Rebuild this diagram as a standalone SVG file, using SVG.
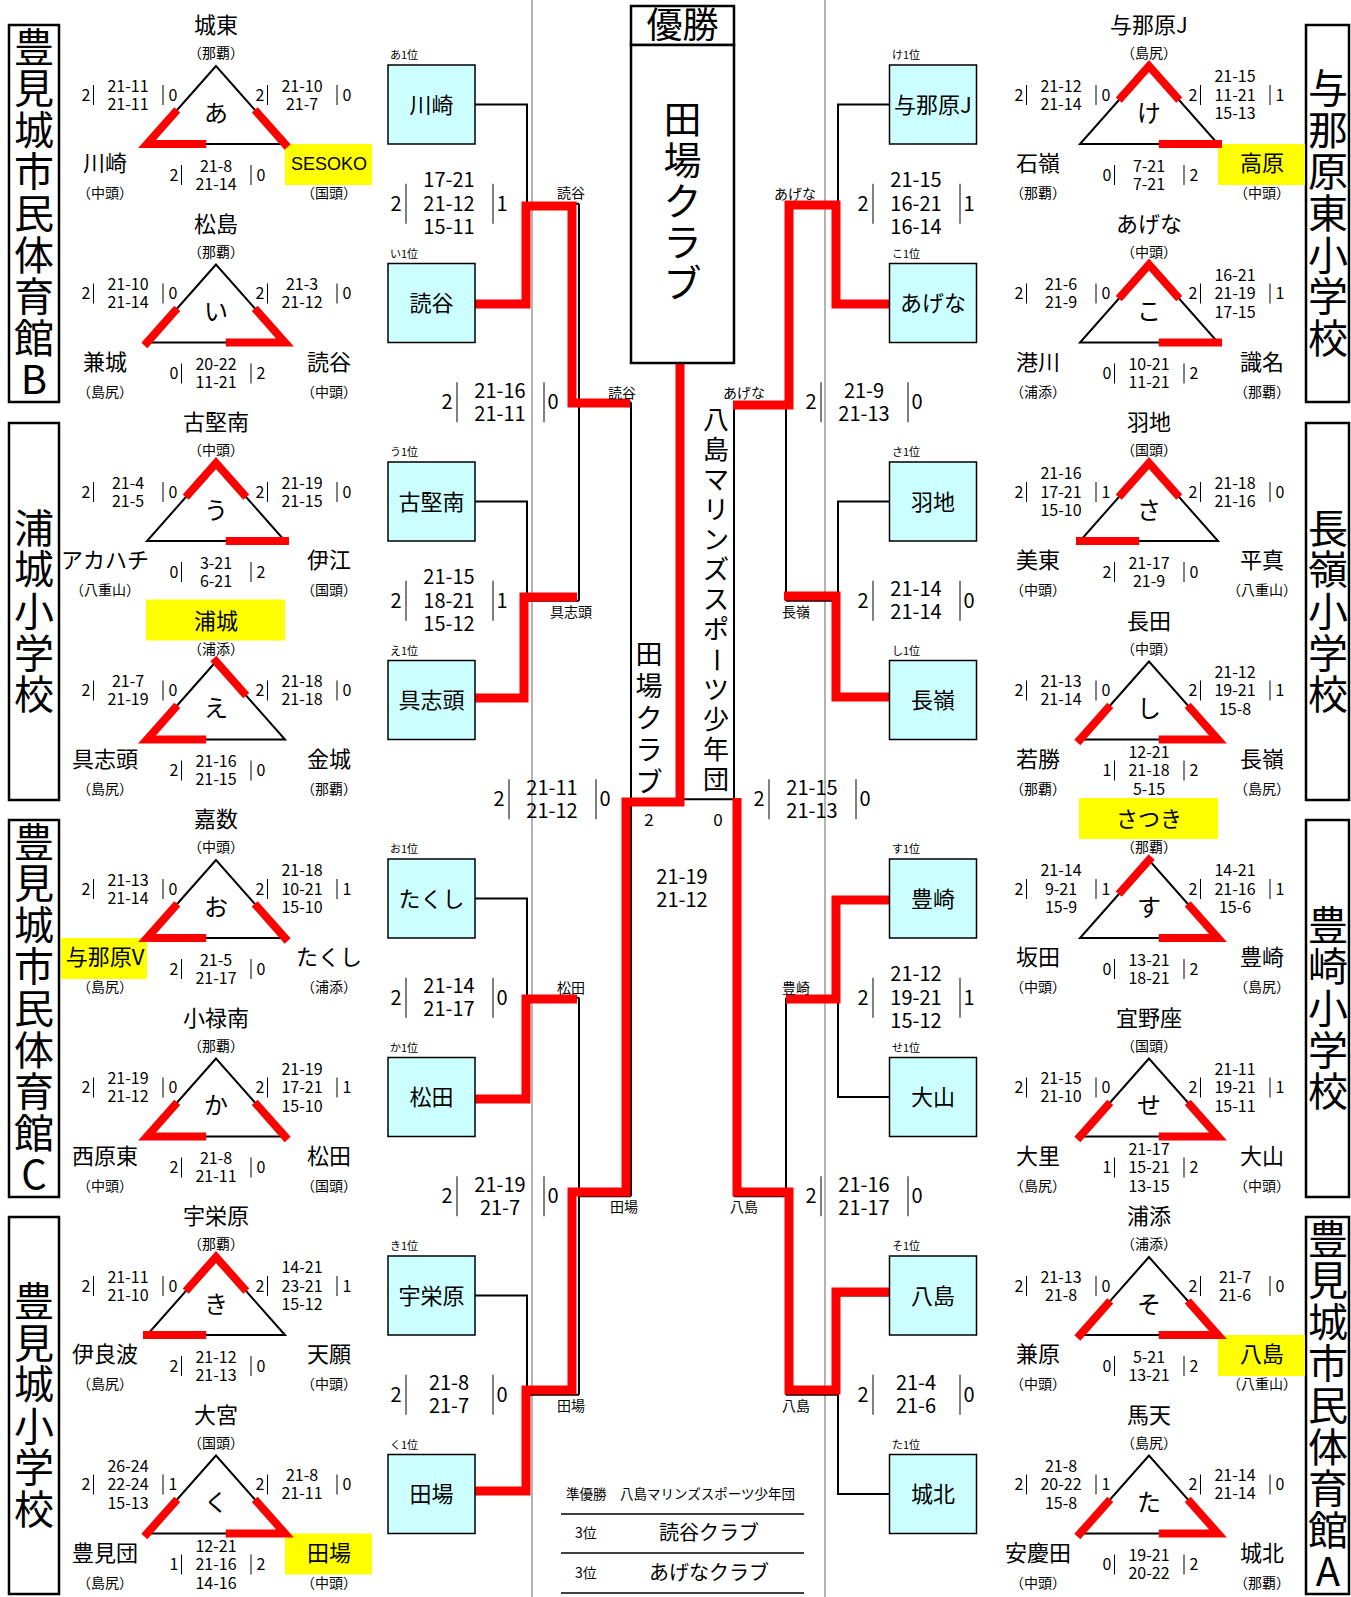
<svg xmlns="http://www.w3.org/2000/svg" xmlns:xlink="http://www.w3.org/1999/xlink" width="1351" height="1597" viewBox="0 0 1351 1597">
<style>
text{font-family:"Noto Sans CJK JP","Noto Sans",sans-serif;fill:#000;text-anchor:middle}
.t{font-size:22px}
.p{font-size:14px}
.l{font-size:24px}
.s{font-size:16px}
.b{font-size:20px}
.f{font-size:17px}
.lb{font-size:14px}
.rk{font-size:11px;text-anchor:start}
.bx{font-size:22px}
.vt{font-size:40px}
.lat{font-family:"Liberation Sans",sans-serif;font-size:18px}
.tri{fill:none;stroke:#000;stroke-width:2}
.red{fill:none;stroke:#f00;stroke-width:8;stroke-linecap:square;stroke-linejoin:miter}
.rb{fill:none;stroke:#f00;stroke-width:9;stroke-linejoin:miter}
.ylw{fill:#ff0}
.bar{stroke:#000;stroke-width:1}
.frame{fill:#fff;stroke:#000;stroke-width:2.5}
.tb{fill:#ccffff;stroke:#000;stroke-width:1.5}
.cn{fill:none;stroke:#000;stroke-width:2}
.gl{stroke:#808080;stroke-width:1.2}
.hl{stroke:#000;stroke-width:1.5}
</style>
<defs>
<g id="sb"><line class="bar" x1="-34.5" y1="-10" x2="-34.5" y2="10"/><line class="bar" x1="35" y1="-10" x2="35" y2="10"/></g>
<g id="bb"><line class="bar" x1="-43" y1="-20" x2="-43" y2="20"/><line class="bar" x1="44" y1="-20" x2="44" y2="20"/></g>
</defs>
<rect width="1351" height="1597" fill="#fff"/>

<g id="grid">
<line class="gl" x1="532" y1="0" x2="532" y2="1597"/>
<line class="gl" x1="825" y1="0" x2="825" y2="1597"/>
</g>

<!-- venue title boxes -->
<g id="venue-left-1"><rect class="frame" x="9" y="25" width="50" height="377"/>
<text class="vt"><tspan x="34" y="61.5">豊</tspan><tspan x="34" y="103.1">見</tspan><tspan x="34" y="144.7">城</tspan><tspan x="34" y="186.3">市</tspan><tspan x="34" y="227.9">民</tspan><tspan x="34" y="269.5">体</tspan><tspan x="34" y="311.1">育</tspan><tspan x="34" y="352.7">館</tspan><tspan x="34" y="394.3">B</tspan></text></g>
<g id="venue-left-2"><rect class="frame" x="9" y="423" width="50" height="377"/>
<text class="vt"><tspan x="34" y="542.7">浦</tspan><tspan x="34" y="584.3">城</tspan><tspan x="34" y="625.9">小</tspan><tspan x="34" y="667.5">学</tspan><tspan x="34" y="709.1">校</tspan></text></g>
<g id="venue-left-3"><rect class="frame" x="9" y="820" width="50" height="377"/>
<text class="vt"><tspan x="34" y="856.5">豊</tspan><tspan x="34" y="898.1">見</tspan><tspan x="34" y="939.7">城</tspan><tspan x="34" y="981.3">市</tspan><tspan x="34" y="1022.9">民</tspan><tspan x="34" y="1064.5">体</tspan><tspan x="34" y="1106.1">育</tspan><tspan x="34" y="1147.7">館</tspan><tspan x="34" y="1189.3">C</tspan></text></g>
<g id="venue-left-4"><rect class="frame" x="9" y="1217" width="50" height="377"/>
<text class="vt"><tspan x="34" y="1315.9">豊</tspan><tspan x="34" y="1357.5">見</tspan><tspan x="34" y="1399.1">城</tspan><tspan x="34" y="1440.7">小</tspan><tspan x="34" y="1482.3">学</tspan><tspan x="34" y="1523.9">校</tspan></text></g>
<g id="venue-right-1"><rect class="frame" x="1306" y="25" width="43" height="377"/>
<text class="vt"><tspan x="1328" y="103.1">与</tspan><tspan x="1328" y="144.7">那</tspan><tspan x="1328" y="186.3">原</tspan><tspan x="1328" y="227.9">東</tspan><tspan x="1328" y="269.5">小</tspan><tspan x="1328" y="311.1">学</tspan><tspan x="1328" y="352.7">校</tspan></text></g>
<g id="venue-right-2"><rect class="frame" x="1306" y="423" width="43" height="377"/>
<text class="vt"><tspan x="1328" y="542.7">長</tspan><tspan x="1328" y="584.3">嶺</tspan><tspan x="1328" y="625.9">小</tspan><tspan x="1328" y="667.5">学</tspan><tspan x="1328" y="709.1">校</tspan></text></g>
<g id="venue-right-3"><rect class="frame" x="1306" y="820" width="43" height="377"/>
<text class="vt"><tspan x="1328" y="939.7">豊</tspan><tspan x="1328" y="981.3">崎</tspan><tspan x="1328" y="1022.9">小</tspan><tspan x="1328" y="1064.5">学</tspan><tspan x="1328" y="1106.1">校</tspan></text></g>
<g id="venue-right-4"><rect class="frame" x="1306" y="1217" width="43" height="377"/>
<text class="vt"><tspan x="1328" y="1253.5">豊</tspan><tspan x="1328" y="1295.1">見</tspan><tspan x="1328" y="1336.7">城</tspan><tspan x="1328" y="1378.3">市</tspan><tspan x="1328" y="1419.9">民</tspan><tspan x="1328" y="1461.5">体</tspan><tspan x="1328" y="1503.1">育</tspan><tspan x="1328" y="1544.7">館</tspan><tspan x="1328" y="1586.3">A</tspan></text></g>

<!-- league triangles, left column -->
<g id="group-a" transform="translate(216,66)">
<rect class="ylw" x="69" y="78" width="87" height="41"/>
<polygon class="tri" points="0,0 -69,78 69,78"/>
<polyline class="red" points="-41.4,46.8 -69,78 -13.8,78"/><polyline class="red" points="41.4,46.8 69,78"/>
<text class="t" y="-33">城東</text><text class="p" y="-8">（那覇）</text><text class="l" y="55.6">あ</text>
<text class="t" x="-111" y="105">川崎</text><text class="p" x="-111" y="132">（中頭）</text>
<text class="lat" x="113" y="104">SESOKO</text><text class="p" x="113" y="132">（国頭）</text>
<g class="s" transform="translate(-88,29)"><use href="#sb"/><text x="-42" y="5.8">2</text><text y="-3.2">21-11</text><text y="14.8">21-11</text><text x="45" y="5.8">0</text></g>
<g class="s" transform="translate(86,29)"><use href="#sb"/><text x="-42" y="5.8">2</text><text y="-3.2">21-10</text><text y="14.8">21-7</text><text x="45" y="5.8">0</text></g>
<g class="s" transform="translate(0,109)"><use href="#sb"/><text x="-42" y="5.8">2</text><text y="-3.2">21-8</text><text y="14.8">21-14</text><text x="45" y="5.8">0</text></g>
</g>

<g id="group-i" transform="translate(216,264.5)">
<polygon class="tri" points="0,0 -69,78 69,78"/>
<polyline class="red" points="-41.4,46.8 -69,78"/><polyline class="red" points="41.4,46.8 69,78 13.8,78"/>
<text class="t" y="-33">松島</text><text class="p" y="-8">（那覇）</text><text class="l" y="55.6">い</text>
<text class="t" x="-111" y="105">兼城</text><text class="p" x="-111" y="132">（島尻）</text>
<text class="t" x="113" y="105">読谷</text><text class="p" x="113" y="132">（中頭）</text>
<g class="s" transform="translate(-88,29)"><use href="#sb"/><text x="-42" y="5.8">2</text><text y="-3.2">21-10</text><text y="14.8">21-14</text><text x="45" y="5.8">0</text></g>
<g class="s" transform="translate(86,29)"><use href="#sb"/><text x="-42" y="5.8">2</text><text y="-3.2">21-3</text><text y="14.8">21-12</text><text x="45" y="5.8">0</text></g>
<g class="s" transform="translate(0,109)"><use href="#sb"/><text x="-42" y="5.8">0</text><text y="-3.2">20-22</text><text y="14.8">11-21</text><text x="45" y="5.8">2</text></g>
</g>

<g id="group-u" transform="translate(216,463)">
<polygon class="tri" points="0,0 -69,78 69,78"/>
<polyline class="red" points="-27.6,31.2 0,0 27.6,31.2"/><polyline class="red" points="69,78 13.8,78"/>
<text class="t" y="-33">古堅南</text><text class="p" y="-8">（中頭）</text><text class="l" y="55.6">う</text>
<text class="t" x="-111" y="105">アカハチ</text><text class="p" x="-111" y="132">（八重山）</text>
<text class="t" x="113" y="105">伊江</text><text class="p" x="113" y="132">（国頭）</text>
<g class="s" transform="translate(-88,29)"><use href="#sb"/><text x="-42" y="5.8">2</text><text y="-3.2">21-4</text><text y="14.8">21-5</text><text x="45" y="5.8">0</text></g>
<g class="s" transform="translate(86,29)"><use href="#sb"/><text x="-42" y="5.8">2</text><text y="-3.2">21-19</text><text y="14.8">21-15</text><text x="45" y="5.8">0</text></g>
<g class="s" transform="translate(0,109)"><use href="#sb"/><text x="-42" y="5.8">0</text><text y="-3.2">3-21</text><text y="14.8">6-21</text><text x="45" y="5.8">2</text></g>
</g>

<g id="group-e" transform="translate(216,661.5)">
<rect class="ylw" x="-70" y="-62" width="139" height="41"/>
<polygon class="tri" points="0,0 -69,78 69,78"/>
<polyline class="red" points="-41.4,46.8 -69,78 -13.8,78"/><polyline class="red" points="0,0 27.6,31.2"/>
<text class="t" y="-33">浦城</text><text class="p" y="-8">（浦添）</text><text class="l" y="55.6">え</text>
<text class="t" x="-111" y="105">具志頭</text><text class="p" x="-111" y="132">（島尻）</text>
<text class="t" x="113" y="105">金城</text><text class="p" x="113" y="132">（那覇）</text>
<g class="s" transform="translate(-88,29)"><use href="#sb"/><text x="-42" y="5.8">2</text><text y="-3.2">21-7</text><text y="14.8">21-19</text><text x="45" y="5.8">0</text></g>
<g class="s" transform="translate(86,29)"><use href="#sb"/><text x="-42" y="5.8">2</text><text y="-3.2">21-18</text><text y="14.8">21-18</text><text x="45" y="5.8">0</text></g>
<g class="s" transform="translate(0,109)"><use href="#sb"/><text x="-42" y="5.8">2</text><text y="-3.2">21-16</text><text y="14.8">21-15</text><text x="45" y="5.8">0</text></g>
</g>

<g id="group-o" transform="translate(216,860)">
<rect class="ylw" x="-155" y="78" width="86" height="41"/>
<polygon class="tri" points="0,0 -69,78 69,78"/>
<polyline class="red" points="-41.4,46.8 -69,78 -13.8,78"/><polyline class="red" points="41.4,46.8 69,78"/>
<text class="t" y="-33">嘉数</text><text class="p" y="-8">（中頭）</text><text class="l" y="55.6">お</text>
<text class="t" x="-111" y="105">与那原V</text><text class="p" x="-111" y="132">（島尻）</text>
<text class="t" x="113" y="105">たくし</text><text class="p" x="113" y="132">（浦添）</text>
<g class="s" transform="translate(-88,29)"><use href="#sb"/><text x="-42" y="5.8">2</text><text y="-3.2">21-13</text><text y="14.8">21-14</text><text x="45" y="5.8">0</text></g>
<g class="s" transform="translate(86,29)"><use href="#sb"/><text x="-42" y="5.8">2</text><text y="-12.7">21-18</text><text y="5.8">10-21</text><text y="24.3">15-10</text><text x="45" y="5.8">1</text></g>
<g class="s" transform="translate(0,109)"><use href="#sb"/><text x="-42" y="5.8">2</text><text y="-3.2">21-5</text><text y="14.8">21-17</text><text x="45" y="5.8">0</text></g>
</g>

<g id="group-ka" transform="translate(216,1058.5)">
<polygon class="tri" points="0,0 -69,78 69,78"/>
<polyline class="red" points="-41.4,46.8 -69,78 -13.8,78"/><polyline class="red" points="41.4,46.8 69,78"/>
<text class="t" y="-33">小禄南</text><text class="p" y="-8">（那覇）</text><text class="l" y="55.6">か</text>
<text class="t" x="-111" y="105">西原東</text><text class="p" x="-111" y="132">（中頭）</text>
<text class="t" x="113" y="105">松田</text><text class="p" x="113" y="132">（国頭）</text>
<g class="s" transform="translate(-88,29)"><use href="#sb"/><text x="-42" y="5.8">2</text><text y="-3.2">21-19</text><text y="14.8">21-12</text><text x="45" y="5.8">0</text></g>
<g class="s" transform="translate(86,29)"><use href="#sb"/><text x="-42" y="5.8">2</text><text y="-12.7">21-19</text><text y="5.8">17-21</text><text y="24.3">15-10</text><text x="45" y="5.8">1</text></g>
<g class="s" transform="translate(0,109)"><use href="#sb"/><text x="-42" y="5.8">2</text><text y="-3.2">21-8</text><text y="14.8">21-11</text><text x="45" y="5.8">0</text></g>
</g>

<g id="group-ki" transform="translate(216,1257)">
<polygon class="tri" points="0,0 -69,78 69,78"/>
<polyline class="red" points="-27.6,31.2 0,0 27.6,31.2"/><polyline class="red" points="-69,78 -13.8,78"/>
<text class="t" y="-33">宇栄原</text><text class="p" y="-8">（那覇）</text><text class="l" y="55.6">き</text>
<text class="t" x="-111" y="105">伊良波</text><text class="p" x="-111" y="132">（島尻）</text>
<text class="t" x="113" y="105">天願</text><text class="p" x="113" y="132">（中頭）</text>
<g class="s" transform="translate(-88,29)"><use href="#sb"/><text x="-42" y="5.8">2</text><text y="-3.2">21-11</text><text y="14.8">21-10</text><text x="45" y="5.8">0</text></g>
<g class="s" transform="translate(86,29)"><use href="#sb"/><text x="-42" y="5.8">2</text><text y="-12.7">14-21</text><text y="5.8">23-21</text><text y="24.3">15-12</text><text x="45" y="5.8">1</text></g>
<g class="s" transform="translate(0,109)"><use href="#sb"/><text x="-42" y="5.8">2</text><text y="-3.2">21-12</text><text y="14.8">21-13</text><text x="45" y="5.8">0</text></g>
</g>

<g id="group-ku" transform="translate(216,1455.5)">
<rect class="ylw" x="69" y="78" width="87" height="41"/>
<polygon class="tri" points="0,0 -69,78 69,78"/>
<polyline class="red" points="-41.4,46.8 -69,78"/><polyline class="red" points="41.4,46.8 69,78 13.8,78"/>
<text class="t" y="-33">大宮</text><text class="p" y="-8">（国頭）</text><text class="l" y="55.6">く</text>
<text class="t" x="-111" y="105">豊見団</text><text class="p" x="-111" y="132">（島尻）</text>
<text class="t" x="113" y="105">田場</text><text class="p" x="113" y="132">（中頭）</text>
<g class="s" transform="translate(-88,29)"><use href="#sb"/><text x="-42" y="5.8">2</text><text y="-12.7">26-24</text><text y="5.8">22-24</text><text y="24.3">15-13</text><text x="45" y="5.8">1</text></g>
<g class="s" transform="translate(86,29)"><use href="#sb"/><text x="-42" y="5.8">2</text><text y="-3.2">21-8</text><text y="14.8">21-11</text><text x="45" y="5.8">0</text></g>
<g class="s" transform="translate(0,109)"><use href="#sb"/><text x="-42" y="5.8">1</text><text y="-12.7">12-21</text><text y="5.8">21-16</text><text y="24.3">14-16</text><text x="45" y="5.8">2</text></g>
</g>

<!-- league triangles, right column -->
<g id="group-ke" transform="translate(1149,66)">
<rect class="ylw" x="69" y="78" width="87" height="41"/>
<polygon class="tri" points="0,0 -69,78 69,78"/>
<polyline class="red" points="-27.6,31.2 0,0 27.6,31.2"/><polyline class="red" points="69,78 13.8,78"/>
<text class="t" y="-33">与那原J</text><text class="p" y="-8">（島尻）</text><text class="l" y="55.6">け</text>
<text class="t" x="-111" y="105">石嶺</text><text class="p" x="-111" y="132">（那覇）</text>
<text class="t" x="113" y="105">高原</text><text class="p" x="113" y="132">（中頭）</text>
<g class="s" transform="translate(-88,29)"><use href="#sb"/><text x="-42" y="5.8">2</text><text y="-3.2">21-12</text><text y="14.8">21-14</text><text x="45" y="5.8">0</text></g>
<g class="s" transform="translate(86,29)"><use href="#sb"/><text x="-42" y="5.8">2</text><text y="-12.7">21-15</text><text y="5.8">11-21</text><text y="24.3">15-13</text><text x="45" y="5.8">1</text></g>
<g class="s" transform="translate(0,109)"><use href="#sb"/><text x="-42" y="5.8">0</text><text y="-3.2">7-21</text><text y="14.8">7-21</text><text x="45" y="5.8">2</text></g>
</g>

<g id="group-ko" transform="translate(1149,264.5)">
<polygon class="tri" points="0,0 -69,78 69,78"/>
<polyline class="red" points="-27.6,31.2 0,0 27.6,31.2"/><polyline class="red" points="69,78 13.8,78"/>
<text class="t" y="-33">あげな</text><text class="p" y="-8">（中頭）</text><text class="l" y="55.6">こ</text>
<text class="t" x="-111" y="105">港川</text><text class="p" x="-111" y="132">（浦添）</text>
<text class="t" x="113" y="105">識名</text><text class="p" x="113" y="132">（那覇）</text>
<g class="s" transform="translate(-88,29)"><use href="#sb"/><text x="-42" y="5.8">2</text><text y="-3.2">21-6</text><text y="14.8">21-9</text><text x="45" y="5.8">0</text></g>
<g class="s" transform="translate(86,29)"><use href="#sb"/><text x="-42" y="5.8">2</text><text y="-12.7">16-21</text><text y="5.8">21-19</text><text y="24.3">17-15</text><text x="45" y="5.8">1</text></g>
<g class="s" transform="translate(0,109)"><use href="#sb"/><text x="-42" y="5.8">0</text><text y="-3.2">10-21</text><text y="14.8">11-21</text><text x="45" y="5.8">2</text></g>
</g>

<g id="group-sa" transform="translate(1149,463)">
<polygon class="tri" points="0,0 -69,78 69,78"/>
<polyline class="red" points="-27.6,31.2 0,0 27.6,31.2"/><polyline class="red" points="-69,78 -13.8,78"/>
<text class="t" y="-33">羽地</text><text class="p" y="-8">（国頭）</text><text class="l" y="55.6">さ</text>
<text class="t" x="-111" y="105">美東</text><text class="p" x="-111" y="132">（中頭）</text>
<text class="t" x="113" y="105">平真</text><text class="p" x="113" y="132">（八重山）</text>
<g class="s" transform="translate(-88,29)"><use href="#sb"/><text x="-42" y="5.8">2</text><text y="-12.7">21-16</text><text y="5.8">17-21</text><text y="24.3">15-10</text><text x="45" y="5.8">1</text></g>
<g class="s" transform="translate(86,29)"><use href="#sb"/><text x="-42" y="5.8">2</text><text y="-3.2">21-18</text><text y="14.8">21-16</text><text x="45" y="5.8">0</text></g>
<g class="s" transform="translate(0,109)"><use href="#sb"/><text x="-42" y="5.8">2</text><text y="-3.2">21-17</text><text y="14.8">21-9</text><text x="45" y="5.8">0</text></g>
</g>

<g id="group-shi" transform="translate(1149,661.5)">
<polygon class="tri" points="0,0 -69,78 69,78"/>
<polyline class="red" points="-41.4,46.8 -69,78"/><polyline class="red" points="41.4,46.8 69,78 13.8,78"/>
<text class="t" y="-33">長田</text><text class="p" y="-8">（中頭）</text><text class="l" y="55.6">し</text>
<text class="t" x="-111" y="105">若勝</text><text class="p" x="-111" y="132">（那覇）</text>
<text class="t" x="113" y="105">長嶺</text><text class="p" x="113" y="132">（島尻）</text>
<g class="s" transform="translate(-88,29)"><use href="#sb"/><text x="-42" y="5.8">2</text><text y="-3.2">21-13</text><text y="14.8">21-14</text><text x="45" y="5.8">0</text></g>
<g class="s" transform="translate(86,29)"><use href="#sb"/><text x="-42" y="5.8">2</text><text y="-12.7">21-12</text><text y="5.8">19-21</text><text y="24.3">15-8</text><text x="45" y="5.8">1</text></g>
<g class="s" transform="translate(0,109)"><use href="#sb"/><text x="-42" y="5.8">1</text><text y="-12.7">12-21</text><text y="5.8">21-18</text><text y="24.3">5-15</text><text x="45" y="5.8">2</text></g>
</g>

<g id="group-su" transform="translate(1149,860)">
<rect class="ylw" x="-70" y="-62" width="139" height="41"/>
<polygon class="tri" points="0,0 -69,78 69,78"/>
<polyline class="red" points="-27.6,31.2 0,0"/><polyline class="red" points="41.4,46.8 69,78 13.8,78"/>
<text class="t" y="-33">さつき</text><text class="p" y="-8">（那覇）</text><text class="l" y="55.6">す</text>
<text class="t" x="-111" y="105">坂田</text><text class="p" x="-111" y="132">（中頭）</text>
<text class="t" x="113" y="105">豊崎</text><text class="p" x="113" y="132">（島尻）</text>
<g class="s" transform="translate(-88,29)"><use href="#sb"/><text x="-42" y="5.8">2</text><text y="-12.7">21-14</text><text y="5.8">9-21</text><text y="24.3">15-9</text><text x="45" y="5.8">1</text></g>
<g class="s" transform="translate(86,29)"><use href="#sb"/><text x="-42" y="5.8">2</text><text y="-12.7">14-21</text><text y="5.8">21-16</text><text y="24.3">15-6</text><text x="45" y="5.8">1</text></g>
<g class="s" transform="translate(0,109)"><use href="#sb"/><text x="-42" y="5.8">0</text><text y="-3.2">13-21</text><text y="14.8">18-21</text><text x="45" y="5.8">2</text></g>
</g>

<g id="group-se" transform="translate(1149,1058.5)">
<polygon class="tri" points="0,0 -69,78 69,78"/>
<polyline class="red" points="-41.4,46.8 -69,78"/><polyline class="red" points="41.4,46.8 69,78 13.8,78"/>
<text class="t" y="-33">宜野座</text><text class="p" y="-8">（国頭）</text><text class="l" y="55.6">せ</text>
<text class="t" x="-111" y="105">大里</text><text class="p" x="-111" y="132">（島尻）</text>
<text class="t" x="113" y="105">大山</text><text class="p" x="113" y="132">（中頭）</text>
<g class="s" transform="translate(-88,29)"><use href="#sb"/><text x="-42" y="5.8">2</text><text y="-3.2">21-15</text><text y="14.8">21-10</text><text x="45" y="5.8">0</text></g>
<g class="s" transform="translate(86,29)"><use href="#sb"/><text x="-42" y="5.8">2</text><text y="-12.7">21-11</text><text y="5.8">19-21</text><text y="24.3">15-11</text><text x="45" y="5.8">1</text></g>
<g class="s" transform="translate(0,109)"><use href="#sb"/><text x="-42" y="5.8">1</text><text y="-12.7">21-17</text><text y="5.8">15-21</text><text y="24.3">13-15</text><text x="45" y="5.8">2</text></g>
</g>

<g id="group-so" transform="translate(1149,1257)">
<rect class="ylw" x="69" y="78" width="87" height="41"/>
<polygon class="tri" points="0,0 -69,78 69,78"/>
<polyline class="red" points="-41.4,46.8 -69,78"/><polyline class="red" points="41.4,46.8 69,78 13.8,78"/>
<text class="t" y="-33">浦添</text><text class="p" y="-8">（浦添）</text><text class="l" y="55.6">そ</text>
<text class="t" x="-111" y="105">兼原</text><text class="p" x="-111" y="132">（中頭）</text>
<text class="t" x="113" y="105">八島</text><text class="p" x="113" y="132">（八重山）</text>
<g class="s" transform="translate(-88,29)"><use href="#sb"/><text x="-42" y="5.8">2</text><text y="-3.2">21-13</text><text y="14.8">21-8</text><text x="45" y="5.8">0</text></g>
<g class="s" transform="translate(86,29)"><use href="#sb"/><text x="-42" y="5.8">2</text><text y="-3.2">21-7</text><text y="14.8">21-6</text><text x="45" y="5.8">0</text></g>
<g class="s" transform="translate(0,109)"><use href="#sb"/><text x="-42" y="5.8">0</text><text y="-3.2">5-21</text><text y="14.8">13-21</text><text x="45" y="5.8">2</text></g>
</g>

<g id="group-ta" transform="translate(1149,1455.5)">
<polygon class="tri" points="0,0 -69,78 69,78"/>
<polyline class="red" points="-41.4,46.8 -69,78"/><polyline class="red" points="41.4,46.8 69,78 13.8,78"/>
<text class="t" y="-33">馬天</text><text class="p" y="-8">（島尻）</text><text class="l" y="55.6">た</text>
<text class="t" x="-111" y="105">安慶田</text><text class="p" x="-111" y="132">（中頭）</text>
<text class="t" x="113" y="105">城北</text><text class="p" x="113" y="132">（那覇）</text>
<g class="s" transform="translate(-88,29)"><use href="#sb"/><text x="-42" y="5.8">2</text><text y="-12.7">21-8</text><text y="5.8">20-22</text><text y="24.3">15-8</text><text x="45" y="5.8">1</text></g>
<g class="s" transform="translate(86,29)"><use href="#sb"/><text x="-42" y="5.8">2</text><text y="-3.2">21-14</text><text y="14.8">21-14</text><text x="45" y="5.8">0</text></g>
<g class="s" transform="translate(0,109)"><use href="#sb"/><text x="-42" y="5.8">0</text><text y="-3.2">19-21</text><text y="14.8">20-22</text><text x="45" y="5.8">2</text></g>
</g>

<!-- connectors -->
<g id="connectors">
<path class="cn" d="M475,104.5H527V303H475M527,203.75H579M475,501.5H527V700H475M527,600.75H579M475,898.5H527V1097H475M527,997.75H579M475,1295.5H527V1494H475M527,1394.75H579M579,203.75V600.75M579,402.25H631M579,997.75V1394.75M579,1196.25H631M631,402.25V1196.25M631,799.25H680M680,363V799.25"/>
<path class="cn" d="M889.5,104.5H838V303H889.5M838,203.75H786M889.5,501.5H838V700H889.5M838,600.75H786M889.5,898.5H838V1097H889.5M838,997.75H786M889.5,1295.5H838V1494H889.5M838,1394.75H786M786,203.75V600.75M786,402.25H734M786,997.75V1394.75M786,1196.25H734M734,402.25V1196.25M734,799.25H680"/>
<path class="rb" d="M475,304H526V206H572V403H630"/>
<path class="rb" d="M475,698H524V597H577"/>
<path class="rb" d="M475,1099H526V999H577"/>
<path class="rb" d="M475,1491H526V1390H572V1192H626V802H680V363"/>
<path class="rb" d="M889.5,304H836V205H789V405H733"/>
<path class="rb" d="M889.5,697H836V596H784"/>
<path class="rb" d="M889.5,900H836V999H786"/>
<path class="rb" d="M889.5,1292H836V1390H789V1192H737V798"/>
<g class="lb">
<text x="571" y="198">読谷</text><text x="571" y="617">具志頭</text><text x="571" y="993">松田</text><text x="571" y="1411">田場</text>
<text x="622" y="398">読谷</text><text x="624" y="1212">田場</text>
<text x="795" y="199">あげな</text><text x="796" y="617">長嶺</text><text x="796" y="993">豊崎</text><text x="796" y="1411">八島</text>
<text x="744" y="398">あげな</text><text x="744" y="1212">八島</text>
</g>
<g class="b" transform="translate(449,203.75)"><use href="#bb"/><text x="-53" y="7.2">2</text><text y="-16.3">17-21</text><text y="7.2">21-12</text><text y="30.7">15-11</text><text x="53" y="7.2">1</text></g>
<g class="b" transform="translate(449,600.75)"><use href="#bb"/><text x="-53" y="7.2">2</text><text y="-16.3">21-15</text><text y="7.2">18-21</text><text y="30.7">15-12</text><text x="53" y="7.2">1</text></g>
<g class="b" transform="translate(449,997.75)"><use href="#bb"/><text x="-53" y="7.2">2</text><text y="-4.3">21-14</text><text y="18.7">21-17</text><text x="53" y="7.2">0</text></g>
<g class="b" transform="translate(449,1394.75)"><use href="#bb"/><text x="-53" y="7.2">2</text><text y="-4.3">21-8</text><text y="18.7">21-7</text><text x="53" y="7.2">0</text></g>
<g class="b" transform="translate(916,203.75)"><use href="#bb"/><text x="-53" y="7.2">2</text><text y="-16.3">21-15</text><text y="7.2">16-21</text><text y="30.7">16-14</text><text x="53" y="7.2">1</text></g>
<g class="b" transform="translate(916,600.75)"><use href="#bb"/><text x="-53" y="7.2">2</text><text y="-4.3">21-14</text><text y="18.7">21-14</text><text x="53" y="7.2">0</text></g>
<g class="b" transform="translate(916,997.75)"><use href="#bb"/><text x="-53" y="7.2">2</text><text y="-16.3">21-12</text><text y="7.2">19-21</text><text y="30.7">15-12</text><text x="53" y="7.2">1</text></g>
<g class="b" transform="translate(916,1394.75)"><use href="#bb"/><text x="-53" y="7.2">2</text><text y="-4.3">21-4</text><text y="18.7">21-6</text><text x="53" y="7.2">0</text></g>
<g class="b" transform="translate(500,402.25)"><use href="#bb"/><text x="-53" y="7.2">2</text><text y="-4.3">21-16</text><text y="18.7">21-11</text><text x="53" y="7.2">0</text></g>
<g class="b" transform="translate(500,1196.25)"><use href="#bb"/><text x="-53" y="7.2">2</text><text y="-4.3">21-19</text><text y="18.7">21-7</text><text x="53" y="7.2">0</text></g>
<g class="b" transform="translate(864,402.25)"><use href="#bb"/><text x="-53" y="7.2">2</text><text y="-4.3">21-9</text><text y="18.7">21-13</text><text x="53" y="7.2">0</text></g>
<g class="b" transform="translate(864,1196.25)"><use href="#bb"/><text x="-53" y="7.2">2</text><text y="-4.3">21-16</text><text y="18.7">21-17</text><text x="53" y="7.2">0</text></g>
<g class="b" transform="translate(552,799.25)"><use href="#bb"/><text x="-53" y="7.2">2</text><text y="-4.3">21-11</text><text y="18.7">21-12</text><text x="53" y="7.2">0</text></g>
<g class="b" transform="translate(812,799.25)"><use href="#bb"/><text x="-53" y="7.2">2</text><text y="-4.3">21-15</text><text y="18.7">21-13</text><text x="53" y="7.2">0</text></g>
<text class="f" x="649" y="826">2</text><text class="f" x="718" y="826">0</text>
<text class="b" x="682" y="884">21-19</text><text class="b" x="682" y="907">21-12</text>
</g>

<!-- team boxes -->
<g id="box-a1"><rect class="tb" x="388" y="65" width="87" height="79"/><text class="rk" x="390" y="59">あ1位</text><text class="bx" x="431.5" y="112.5">川崎</text></g>
<g id="box-i1"><rect class="tb" x="388" y="263.5" width="87" height="79"/><text class="rk" x="390" y="257.5">い1位</text><text class="bx" x="431.5" y="311">読谷</text></g>
<g id="box-u1"><rect class="tb" x="388" y="462" width="87" height="79"/><text class="rk" x="390" y="456">う1位</text><text class="bx" x="431.5" y="509.5">古堅南</text></g>
<g id="box-e1"><rect class="tb" x="388" y="660.5" width="87" height="79"/><text class="rk" x="390" y="654.5">え1位</text><text class="bx" x="431.5" y="708">具志頭</text></g>
<g id="box-o1"><rect class="tb" x="388" y="859" width="87" height="79"/><text class="rk" x="390" y="853">お1位</text><text class="bx" x="431.5" y="906.5">たくし</text></g>
<g id="box-ka1"><rect class="tb" x="388" y="1057.5" width="87" height="79"/><text class="rk" x="390" y="1051.5">か1位</text><text class="bx" x="431.5" y="1105">松田</text></g>
<g id="box-ki1"><rect class="tb" x="388" y="1256" width="87" height="79"/><text class="rk" x="390" y="1250">き1位</text><text class="bx" x="431.5" y="1303.5">宇栄原</text></g>
<g id="box-ku1"><rect class="tb" x="388" y="1454.5" width="87" height="79"/><text class="rk" x="390" y="1448.5">く1位</text><text class="bx" x="431.5" y="1502">田場</text></g>
<g id="box-ke1"><rect class="tb" x="889.5" y="65" width="87" height="79"/><text class="rk" x="892" y="59">け1位</text><text class="bx" x="933" y="112.5">与那原J</text></g>
<g id="box-ko1"><rect class="tb" x="889.5" y="263.5" width="87" height="79"/><text class="rk" x="892" y="257.5">こ1位</text><text class="bx" x="933" y="311">あげな</text></g>
<g id="box-sa1"><rect class="tb" x="889.5" y="462" width="87" height="79"/><text class="rk" x="892" y="456">さ1位</text><text class="bx" x="933" y="509.5">羽地</text></g>
<g id="box-shi1"><rect class="tb" x="889.5" y="660.5" width="87" height="79"/><text class="rk" x="892" y="654.5">し1位</text><text class="bx" x="933" y="708">長嶺</text></g>
<g id="box-su1"><rect class="tb" x="889.5" y="859" width="87" height="79"/><text class="rk" x="892" y="853">す1位</text><text class="bx" x="933" y="906.5">豊崎</text></g>
<g id="box-se1"><rect class="tb" x="889.5" y="1057.5" width="87" height="79"/><text class="rk" x="892" y="1051.5">せ1位</text><text class="bx" x="933" y="1105">大山</text></g>
<g id="box-so1"><rect class="tb" x="889.5" y="1256" width="87" height="79"/><text class="rk" x="892" y="1250">そ1位</text><text class="bx" x="933" y="1303.5">八島</text></g>
<g id="box-ta1"><rect class="tb" x="889.5" y="1454.5" width="87" height="79"/><text class="rk" x="892" y="1448.5">た1位</text><text class="bx" x="933" y="1502">城北</text></g>

<!-- champion -->
<g id="champion">
<rect class="frame" x="631" y="6" width="103" height="39"/>
<rect class="frame" x="631" y="45" width="103" height="318"/>
<text x="682.5" y="38" style="font-size:36px">優勝</text>
<text style="font-size:38px"><tspan x="682.5" y="132.7">田</tspan><tspan x="682.5" y="173.7">場</tspan><tspan x="682.5" y="214.7">ク</tspan><tspan x="682.5" y="255.7">ラ</tspan><tspan x="682.5" y="296.7">ブ</tspan></text>
</g>

<g id="finalists">
<text style="font-size:27px"><tspan x="649" y="663.7">田</tspan><tspan x="649" y="695.7">場</tspan><tspan x="649" y="727.7">ク</tspan><tspan x="649" y="759.7">ラ</tspan><tspan x="649" y="791.7">ブ</tspan></text>
<text style="font-size:26px"><tspan x="716" y="429.4">八</tspan><tspan x="716" y="459.4">島</tspan><tspan x="716" y="489.4">マ</tspan><tspan x="716" y="519.4">リ</tspan><tspan x="716" y="549.4">ン</tspan><tspan x="716" y="579.4">ズ</tspan><tspan x="716" y="609.4">ス</tspan><tspan x="716" y="639.4">ポ</tspan></text>
<text style="font-size:26px" x="716" y="669.4" transform="rotate(90 716 660)">ー</text>
<text style="font-size:26px"><tspan x="716" y="699.4">ツ</tspan><tspan x="716" y="729.4">少</tspan><tspan x="716" y="759.4">年</tspan><tspan x="716" y="789.4">団</tspan></text>
</g>

<!-- standings table -->
<g id="standings">
<text x="566" y="1499" style="font-size:13.5px;text-anchor:start">準優勝　八島マリンズスポーツ少年団</text>
<line class="hl" x1="561" y1="1514" x2="804" y2="1514"/>
<text x="575" y="1538" style="font-size:14px;text-anchor:start">3位</text>
<text x="709" y="1540" style="font-size:20px">読谷クラブ</text>
<line class="hl" x1="561" y1="1553" x2="804" y2="1553"/>
<text x="575" y="1578" style="font-size:14px;text-anchor:start">3位</text>
<text x="709" y="1580" style="font-size:20px">あげなクラブ</text>
<line class="hl" x1="561" y1="1593" x2="804" y2="1593"/>
</g>
</svg>
